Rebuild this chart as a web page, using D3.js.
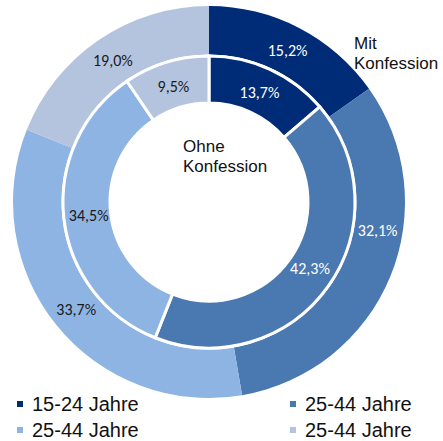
<!DOCTYPE html>
<html>
<head>
<meta charset="utf-8">
<script src="https://cdn.jsdelivr.net/npm/d3@7"></script>
<style>
  body { margin: 0; background: #fff; }
  svg { display: block; }
</style>
</head>
<body>
<div id="chart"></div>
<script>
// legend entries (labels as in the original, repeated ones included)
const categories = ["15-24 Jahre", "25-44 Jahre", "25-44 Jahre", "25-44 Jahre"];
const mitKonfession = [15.2, 32.1, 33.7, 19.0];   // outer ring
const ohneKonfession = [13.7, 42.3, 34.5, 9.5];   // inner ring
const ringTitles = ["Mit Konfession", "Ohne Konfession"];

const colors = ["#002c77", "#4a78b0", "#8eb4e3", "#b4c3de"];
const labelColors = ["#fff", "#fff", "#1a1a1a", "#1a1a1a"];

const W = 443, H = 441;
const cx = 209, cy = 202;

const svg = d3.select("#chart").append("svg")
    .attr("width", W)
    .attr("height", H);

const g = svg.append("g").attr("transform", `translate(${cx},${cy})`);

const pie = d3.pie().sort(null).value(d => d);

const fmt = v => d3.format(".1f")(v).replace(".", ",") + "%";

function drawRing(values, r0, r1, strokeW, labelR, nudge) {
    const arc = d3.arc().innerRadius(r0).outerRadius(r1);
    const labelArc = d3.arc().innerRadius(labelR).outerRadius(labelR);
    const arcs = pie(values);

    const ring = g.append("g");
    ring.selectAll("path")
        .data(arcs)
        .enter().append("path")
        .attr("d", arc)
        .attr("fill", (d, i) => colors[i])
        .attr("stroke", "#fff")
        .attr("stroke-width", strokeW);

    ring.selectAll("text")
        .data(arcs)
        .enter().append("text")
        .attr("transform", (d, i) => {
            const shift = (nudge[i] || 0) * Math.PI / 180;
            const a = (d.startAngle + d.endAngle) / 2 + shift;
            const p = labelArc.centroid({startAngle: a, endAngle: a});
            return `translate(${p[0]},${p[1]})`;
        })
        .attr("text-anchor", "middle")
        .attr("dy", "0.35em")
        .attr("fill", (d, i) => labelColors[i])
        .style("font-family", "Carlito, Lato, 'Open Sans', sans-serif")
        .style("font-size", "16px")
        .text(d => fmt(d.data));
}

drawRing(mitKonfession, 147, 196, 0, 171, [0, -13, 0, 0]);
drawRing(ohneKonfession, 99, 146, 3, 121, [0, -2, 0, 0]);

// white separation circle between rings
g.append("circle")
    .attr("r", 146.5)
    .attr("fill", "none")
    .attr("stroke", "#fff")
    .attr("stroke-width", 2);

// ring titles
function title(text, x, y) {
    const t = svg.append("text")
        .attr("x", x)
        .attr("y", y)
        .attr("fill", "#111")
        .style("font-family", "'Liberation Sans', Arial, sans-serif")
        .style("font-size", "17px");
    text.split(" ").forEach((w, i) => {
        t.append("tspan").attr("x", x).attr("dy", i === 0 ? 0 : 20).text(w);
    });
}
title(ringTitles[0], 354, 49);
title(ringTitles[1], 183, 152);

// legend
const legend = svg.append("g").attr("class", "legend");
const item = legend.selectAll("g")
    .data(categories)
    .enter().append("g")
    .attr("transform", (d, i) => `translate(${i % 2 === 0 ? 17 : 290},${i < 2 ? 411 : 437})`);

item.append("rect")
    .attr("x", 0)
    .attr("y", -10)
    .attr("width", 6)
    .attr("height", 6)
    .attr("fill", (d, i) => colors[i]);

item.append("text")
    .attr("x", 15)
    .attr("y", 0)
    .attr("fill", "#111")
    .style("font-family", "'Liberation Sans', Arial, sans-serif")
    .style("font-size", "20px")
    .text(d => d);
</script>
</body>
</html>
